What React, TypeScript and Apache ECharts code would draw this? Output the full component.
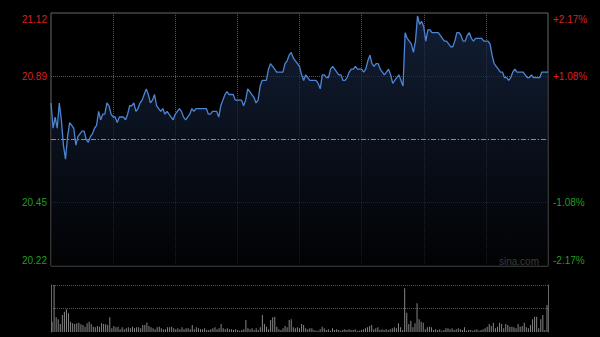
import React, { useEffect, useRef } from 'react';
import * as echarts from 'echarts';

// ---- data ----
const prevClose = 20.67;
const priceMin = 20.22;
const priceMax = 21.12;
const priceStep = 0.225;

const prices: number[] = [
  20.80, 20.71, 20.75, 20.71, 20.80, 20.74, 20.65, 20.60, 20.68, 20.73,
  20.72, 20.71, 20.65, 20.68, 20.69, 20.70, 20.70, 20.67, 20.66, 20.68,
  20.69, 20.71, 20.72, 20.77, 20.74, 20.76, 20.76, 20.80, 20.79, 20.76,
  20.75, 20.75, 20.73, 20.75, 20.75, 20.75, 20.74, 20.76, 20.79, 20.79,
  20.80, 20.77, 20.78, 20.80, 20.81, 20.83, 20.85, 20.83, 20.80, 20.81,
  20.83, 20.79, 20.78, 20.77, 20.78, 20.76, 20.77, 20.76, 20.75, 20.74,
  20.76, 20.77, 20.78, 20.77, 20.75, 20.74, 20.75, 20.76, 20.78, 20.77,
  20.78, 20.78, 20.78, 20.78, 20.78, 20.78, 20.76, 20.76, 20.77, 20.77,
  20.77, 20.75, 20.79, 20.81, 20.83, 20.84, 20.83, 20.83, 20.83, 20.81,
  20.81, 20.81, 20.81, 20.79, 20.81, 20.85, 20.84, 20.83, 20.82, 20.80,
  20.81, 20.86, 20.88, 20.88, 20.88, 20.92, 20.94, 20.93, 20.92, 20.91,
  20.91, 20.91, 20.91, 20.94, 20.95, 20.97, 20.98, 20.96, 20.95, 20.94,
  20.93, 20.90, 20.88, 20.90, 20.89, 20.88, 20.88, 20.88, 20.88, 20.87,
  20.85, 20.90, 20.90, 20.89, 20.89, 20.92, 20.93, 20.92, 20.91, 20.90,
  20.90, 20.88, 20.88, 20.89, 20.91, 20.92, 20.92, 20.93, 20.92, 20.92,
  20.92, 20.91, 20.92, 20.95, 20.97, 20.94, 20.93, 20.94, 20.94, 20.92,
  20.91, 20.90, 20.91, 20.92, 20.90, 20.87, 20.88, 20.89, 20.90, 20.88,
  20.86, 21.05, 21.03, 21.02, 21.01, 20.98, 21.02, 21.11, 21.08, 21.09,
  21.07, 21.02, 21.06, 21.06, 21.05, 21.05, 21.05, 21.05, 21.04, 21.03,
  21.02, 21.02, 21.01, 21.00, 21.00, 21.02, 21.05, 21.05, 21.04, 21.02,
  21.02, 21.04, 21.05, 21.03, 21.02, 21.03, 21.03, 21.03, 21.03, 21.02,
  21.02, 21.02, 21.01, 20.97, 20.94, 20.93, 20.92, 20.91, 20.91, 20.89,
  20.89, 20.88, 20.89, 20.91, 20.92, 20.91, 20.91, 20.91, 20.91, 20.90,
  20.89, 20.89, 20.90, 20.89, 20.89, 20.89, 20.89, 20.91, 20.91, 20.91,
  20.91,
];

const volumes: number[] = [
  1030, 4700, 1470, 1270, 800, 1700, 2030, 2270, 1870, 1030,
  870, 800, 870, 930, 770, 700, 530, 870, 1030, 800,
  530, 470, 600, 530, 870, 800, 770, 700, 1470, 370,
  600, 470, 530, 270, 470, 270, 370, 470, 370, 530,
  370, 470, 470, 370, 700, 700, 930, 600, 470, 370,
  270, 470, 530, 370, 270, 270, 470, 470, 530,
  370, 270, 370, 270, 470, 270, 370, 370, 270, 700,
  270, 470, 370, 270,
  270, 370, 200, 200, 270,
  370, 470, 270, 370, 800, 370, 270, 370, 270, 270,
  200, 270, 200, 130, 200, 270, 1200, 370, 270, 370,
  200, 370, 200, 470, 1700, 800, 530, 270, 1200, 1470,
  1530, 530, 270, 200, 370, 600, 470, 1200, 1270, 470,
  370, 470, 370,
  800, 700, 370, 270, 370, 370, 200, 130, 130,
  270, 530, 370, 200, 270, 130, 370, 200, 270, 200,
  130, 200, 270, 200, 270, 200, 200, 270, 130,
  130, 200, 270, 370, 470, 600, 700, 270, 370, 470,
  200, 270, 200, 270, 200, 270, 370, 470, 370, 870,
  470, 200, 4370, 1930, 800, 1130, 470, 870, 2870, 1270,
  1030, 930, 270, 470, 530, 470, 200, 270, 200, 270,
  130, 200, 370, 370, 270, 370, 200, 270, 370, 270,
  200, 470, 130, 200, 200, 130, 200, 270, 130,
  200, 270, 370, 530, 800, 600, 930, 370, 530, 930,
  800, 370, 800, 700, 530, 530, 470, 370, 800, 530,
  600, 930, 470, 370, 700, 1270, 1530, 1530, 370, 1270,
  1700, 200, 2700,
];

function buildTimes(): string[] {
  const out: string[] = [];
  const pad = (n: number) => (n < 10 ? '0' + n : '' + n);
  for (let m = 9 * 60 + 30; m <= 11 * 60 + 30; m++) out.push(pad(Math.floor(m / 60)) + ':' + pad(m % 60));
  for (let m = 13 * 60 + 1; m <= 15 * 60; m++) out.push(pad(Math.floor(m / 60)) + ':' + pad(m % 60));
  return out;
}
const times = buildTimes();

const RED = '#d92020';
const GREEN = '#1f9e1f';
const GRID_LINE = '#555555';
const BORDER = '#666666';
const FONT = '"Liberation Sans", Arial, Helvetica, sans-serif';

export default function App() {
  const ref = useRef<HTMLDivElement>(null);

  useEffect(() => {
    if (!ref.current) return;
    const chart = echarts.init(ref.current, null, { renderer: 'svg' });
    const volMax = Math.max(...volumes);
    const near = (a: number, b: number) => Math.abs(a - b) < 1e-6;

    const priceLabel = (raw: any) => {
      const v = Number(raw);
      if (near(v, prevClose)) return '';
      const s = v.toFixed(2);
      if (near(v, priceMax)) return '\n' + s;
      if (near(v, priceMin)) return s + '\n';
      return s;
    };
    const pctLabel = (raw: any) => {
      const v = Number(raw);
      if (near(v, prevClose)) return '';
      const pct = ((v - prevClose) / prevClose) * 100;
      const t = Math.floor(Math.abs(pct) * 100 + 1e-9) / 100;
      const s = (v > prevClose ? '+' : '-') + t.toFixed(2) + '%';
      if (near(v, priceMax)) return '\n' + s;
      if (near(v, priceMin)) return s + '\n';
      return s;
    };
    const labelColor = (raw: any) => (Number(raw) > prevClose ? RED : GREEN);

    const option: any = {
      animation: false,
      backgroundColor: '#000000',
      grid: [
        { left: 51, right: 52, top: 13, height: 253, show: true, borderColor: BORDER, borderWidth: 1, backgroundColor: 'transparent' },
        { left: 51, right: 52, top: 285, height: 47, show: false },
      ],
      xAxis: [
        {
          type: 'category', gridIndex: 0, data: times, boundaryGap: false,
          axisLine: { show: false }, axisTick: { show: false }, axisLabel: { show: false },
          splitLine: {
            show: true,
            interval: (i: number) => i > 0 && i < 240 && i % 30 === 0,
            lineStyle: { color: GRID_LINE, type: [1, 1], width: 1 },
          },
        },
        {
          type: 'category', gridIndex: 1, data: times, boundaryGap: true,
          axisLine: { show: false }, axisTick: { show: false }, axisLabel: { show: false },
          splitLine: { show: false },
        },
      ],
      yAxis: [
        {
          type: 'value', gridIndex: 0, position: 'left', min: priceMin, max: priceMax, interval: priceStep,
          axisLine: { show: false }, axisTick: { show: false },
          axisLabel: {
            show: true, showMinLabel: true, showMaxLabel: true, margin: 4,
            formatter: priceLabel, color: labelColor, fontSize: 10, lineHeight: 12, fontFamily: FONT,
          },
          splitLine: { show: true, showMinLine: false, showMaxLine: false, lineStyle: { color: GRID_LINE, type: [1, 1], width: 1 } },
        },
        {
          type: 'value', gridIndex: 0, position: 'right', min: priceMin, max: priceMax, interval: priceStep,
          axisLine: { show: false }, axisTick: { show: false },
          axisLabel: {
            show: true, showMinLabel: true, showMaxLabel: true, margin: 5,
            formatter: pctLabel, color: labelColor, fontSize: 10, lineHeight: 12, fontFamily: FONT,
          },
          splitLine: { show: false },
        },
        {
          type: 'value', gridIndex: 1, position: 'left', min: 0, max: volMax, interval: volMax / 2,
          axisLine: { show: true, lineStyle: { color: BORDER, width: 1 } }, axisTick: { show: false }, axisLabel: { show: false },
          splitLine: { show: true, showMinLine: false, lineStyle: { color: GRID_LINE, type: [1, 1], width: 1 } },
        },
        {
          type: 'value', gridIndex: 1, position: 'right', min: 0, max: volMax, interval: volMax / 2,
          axisLine: { show: true, lineStyle: { color: BORDER, width: 1 } }, axisTick: { show: false }, axisLabel: { show: false },
          splitLine: { show: false },
        },
      ],
      series: [
        {
          type: 'line', xAxisIndex: 0, yAxisIndex: 0, data: prices,
          symbol: 'none', showSymbol: false, silent: true,
          lineStyle: { color: '#4e84d6', width: 1.3 },
          areaStyle: {
            origin: 'start',
            color: new echarts.graphic.LinearGradient(0, 0, 0, 1, [
              { offset: 0, color: '#1a2b4a' },
              { offset: 1, color: '#020305' },
            ]),
          },
          markLine: {
            silent: true, symbol: ['none', 'none'], label: { show: false },
            lineStyle: { color: '#8a8a8a', type: [5, 2, 1, 2], width: 1 },
            data: [{ yAxis: prevClose }],
          },
        },
        {
          type: 'bar', xAxisIndex: 1, yAxisIndex: 2, data: volumes,
          barWidth: 1, silent: true,
          itemStyle: { color: '#858585' },
        },
      ],
      graphic: [
        {
          type: 'text', left: 499, top: 256, silent: true,
          style: { text: 'sina.com', fill: '#b4b4b4', font: '10px ' + FONT },
        },
      ],
    };
    chart.setOption(option);
    return () => chart.dispose();
  }, []);

  return (
    <div
      ref={ref}
      style={{ position: 'fixed', left: 0, top: 0, width: 600, height: 337, background: '#000' }}
    />
  );
}
